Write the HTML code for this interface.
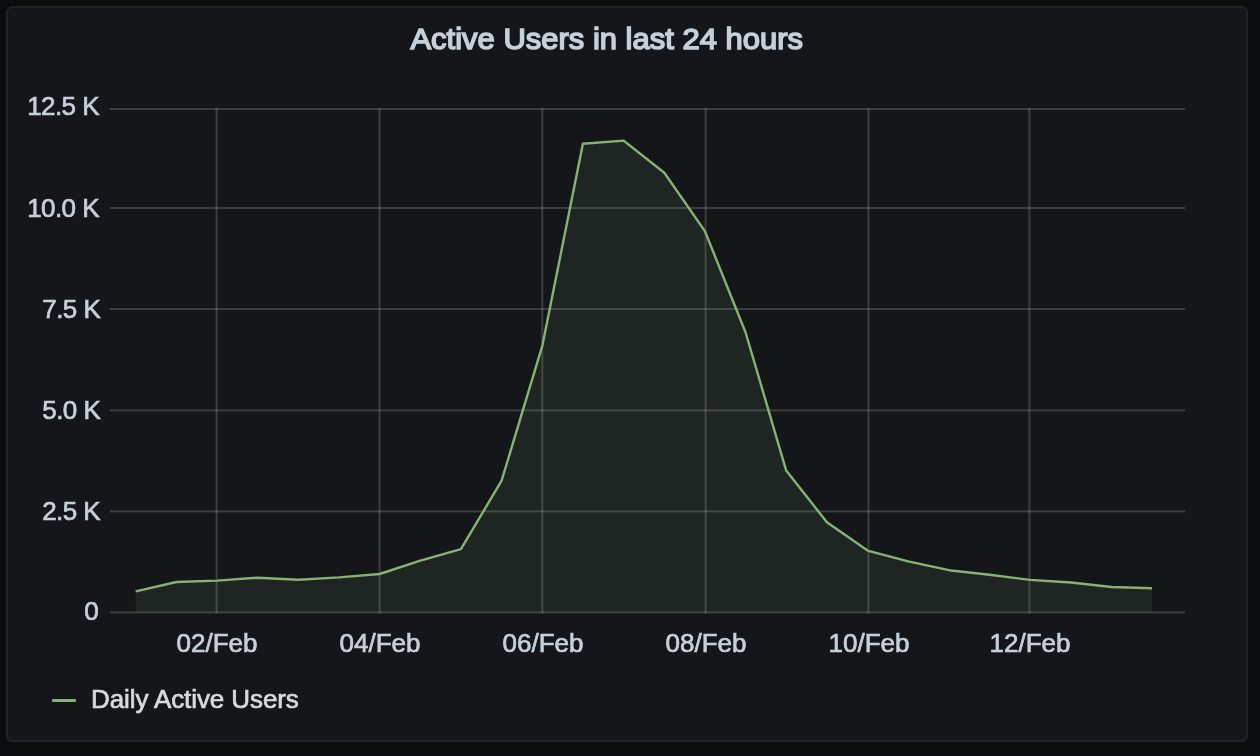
<!DOCTYPE html>
<html><head><meta charset="utf-8"><title>Active Users in last 24 hours</title>
<style>
html,body{margin:0;padding:0;}
body{width:1260px;height:756px;background:#0b0c0e;overflow:hidden;position:relative;font-family:"Liberation Sans",sans-serif;}
.panel{position:absolute;left:6px;top:6px;width:1238px;height:732px;border:2px solid #202226;border-radius:6px;background:#141619;}
.plot{position:absolute;left:0;top:0;}
.t{will-change:transform;}
.yl,.xl{-webkit-text-stroke:0.7px #c7d0d9;}
.lgtext{-webkit-text-stroke:0.7px #d8d9da;}
.title{position:absolute;left:0;width:1213.4px;top:21px;height:36px;line-height:36px;text-align:center;color:#c7d0d9;font-size:29.5px;-webkit-text-stroke:1.5px #c7d0d9;transform:scaleX(1.05);transform-origin:50% 50%;white-space:nowrap;}
.yl{position:absolute;left:0;width:99px;height:30px;line-height:30px;text-align:right;color:#c7d0d9;font-size:26px;white-space:nowrap;letter-spacing:-0.55px;}
.xl{position:absolute;top:628px;width:120px;height:30px;line-height:30px;text-align:center;color:#c7d0d9;font-size:26px;letter-spacing:0px;white-space:nowrap;}
.lgline{position:absolute;left:52px;top:699.3px;width:24px;height:3.2px;border-radius:1px;background:#89B174;}
.lgtext{position:absolute;left:91.3px;top:684px;height:30px;line-height:30px;color:#d8d9da;font-size:26px;letter-spacing:-0.1px;white-space:nowrap;}
</style></head>
<body>
<div class="panel"></div>
<svg class="plot" width="1260" height="756" viewBox="0 0 1260 756">
<polygon points="135.7,612.4 135.7,591.4 176.4,582.0 217.0,580.6 257.7,577.7 298.3,579.7 339.0,577.4 379.6,574.0 420.3,560.6 460.9,549.2 501.6,480.7 542.3,345.9 582.9,143.8 623.6,140.6 664.3,172.7 704.9,231.1 745.6,332.5 786.2,470.6 826.9,522.2 867.6,550.6 908.2,561.4 948.9,570.2 989.6,574.8 1030.2,579.9 1070.9,582.5 1111.6,587.0 1152.0,588.3 1152.0,612.4" fill="#89B174" fill-opacity="0.1"/>
<rect x="110" y="108.0" width="1075" height="2" fill="#c8c8c8" fill-opacity="0.22"/>
<rect x="110" y="207.0" width="1075" height="2" fill="#c8c8c8" fill-opacity="0.22"/>
<rect x="110" y="308.0" width="1075" height="2" fill="#c8c8c8" fill-opacity="0.22"/>
<rect x="110" y="409.4" width="1075" height="2" fill="#c8c8c8" fill-opacity="0.22"/>
<rect x="110" y="510.4" width="1075" height="2" fill="#c8c8c8" fill-opacity="0.22"/>
<rect x="110" y="611.4" width="1075" height="2" fill="#c8c8c8" fill-opacity="0.22"/>
<rect x="215.6" y="108" width="2" height="505.4" fill="#c8c8c8" fill-opacity="0.22"/>
<rect x="378.6" y="108" width="2" height="505.4" fill="#c8c8c8" fill-opacity="0.22"/>
<rect x="541.3" y="108" width="2" height="505.4" fill="#c8c8c8" fill-opacity="0.22"/>
<rect x="704.6" y="108" width="2" height="505.4" fill="#c8c8c8" fill-opacity="0.22"/>
<rect x="867.4" y="108" width="2" height="505.4" fill="#c8c8c8" fill-opacity="0.22"/>
<rect x="1028.4" y="108" width="2" height="505.4" fill="#c8c8c8" fill-opacity="0.22"/>
<polyline points="135.7,591.4 176.4,582.0 217.0,580.6 257.7,577.7 298.3,579.7 339.0,577.4 379.6,574.0 420.3,560.6 460.9,549.2 501.6,480.7 542.3,345.9 582.9,143.8 623.6,140.6 664.3,172.7 704.9,231.1 745.6,332.5 786.2,470.6 826.9,522.2 867.6,550.6 908.2,561.4 948.9,570.2 989.6,574.8 1030.2,579.9 1070.9,582.5 1111.6,587.0 1152.0,588.3" fill="none" stroke="#89B174" stroke-width="2.4" stroke-linejoin="round"/>
</svg>
<div class="title t">Active Users in last 24 hours</div>
<div class="yl t" style="top:91.4px;width:99.0px">12.5 K</div>
<div class="yl t" style="top:193.4px;width:99.0px">10.0 K</div>
<div class="yl t" style="top:293.7px;width:100.2px">7.5 K</div>
<div class="yl t" style="top:395.4px;width:100.2px">5.0 K</div>
<div class="yl t" style="top:495.9px;width:100.1px">2.5 K</div>
<div class="yl t" style="top:596.0px;width:98.1px">0</div>
<div class="xl t" style="left:157.1px">02/Feb</div>
<div class="xl t" style="left:320.1px">04/Feb</div>
<div class="xl t" style="left:482.8px">06/Feb</div>
<div class="xl t" style="left:646.1px">08/Feb</div>
<div class="xl t" style="left:808.9px">10/Feb</div>
<div class="xl t" style="left:969.9px">12/Feb</div>
<div class="lgline"></div>
<div class="lgtext t">Daily Active Users</div>
</body></html>
